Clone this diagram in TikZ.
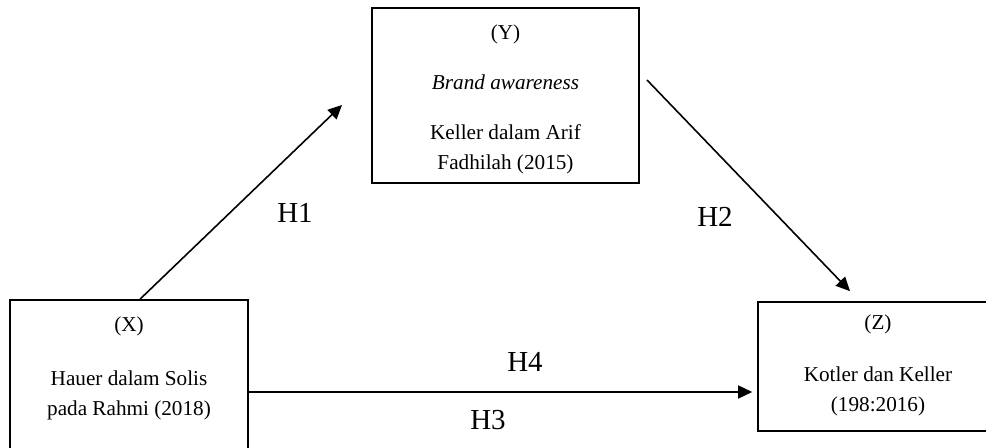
\documentclass[tikz,border=0pt]{standalone}
\usepackage{fontspec}
\setmainfont{Liberation Serif}
\usepackage{tikz}
\usetikzlibrary{positioning,arrows.meta}

\begin{document}
\begin{tikzpicture}[x=0.5pt, y=-0.5pt,
    box/.style={draw, line width=0.8pt, inner sep=0pt},
    boxtext/.style={align=center, font=\fontsize{10.6}{15}\selectfont},
    hlabel/.style={font=\fontsize{14.5}{17}\selectfont},
    arr/.style={-{Triangle[length=7pt,width=6.5pt]}, line width=0.8pt}]
    \useasboundingbox (0,0) rectangle (986,448);

    \node[box, minimum width=133.5pt, minimum height=87.5pt] (ybox) at (505.5,95.5) {};
    \node[boxtext] (ytext) at (505.5,99.5) {(Y)\\[10pt]\textit{Brand awareness}\\[10pt]Keller dalam Arif\\Fadhilah (2015)};

    \node[box, minimum width=119pt, minimum height=85pt] (xbox) at (129,385) {};
    \node[boxtext] (xtext) at (129,368.5) {(X)\\[12pt]Hauer dalam Solis\\pada Rahmi (2018)};

    \node[box, minimum width=120pt, minimum height=64.5pt] (zbox) at (878,366.5) {};
    \node[boxtext] (ztext) at (878,365) {(Z)\\[11pt]Kotler dan Keller\\(198:2016)};

    \coordinate (h1end) at (342,105);
    \coordinate (h2start) at (647,80);

    \draw[arr] ([xshift=5.5pt]xbox.north) -- (h1end);
    \draw[arr] (h2start) -- ([xshift=-14pt,yshift=5pt]zbox.north);
    \draw[arr, shorten >=2.5pt] ([yshift=-3.5pt]xbox.east) -- ([yshift=-3.5pt]xbox.east -| zbox.west);

    \node[hlabel] (h1) at (295,213) {H1};
    \node[hlabel] (h2) at (715,217) {H2};
    \node[hlabel] (h4) at (525,362) {H4};
    \node[hlabel] (h3) at (488,420) {H3};
  \end{tikzpicture}
\end{document}
